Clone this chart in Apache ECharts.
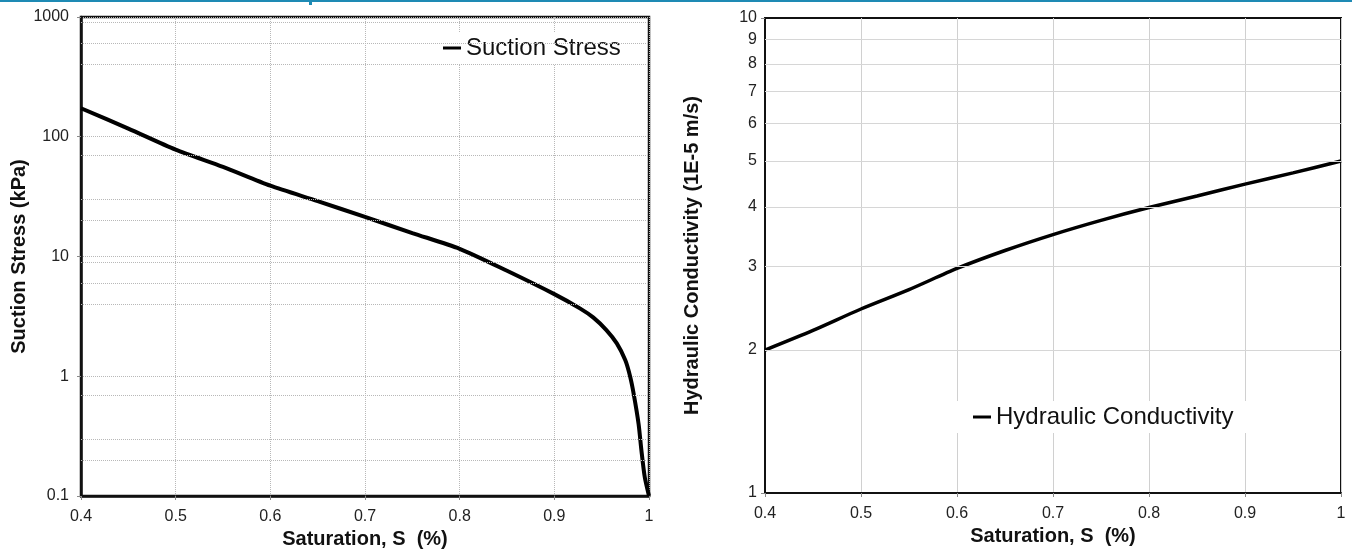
<!DOCTYPE html>
<html>
<head>
<meta charset="utf-8">
<script src="https://cdn.jsdelivr.net/npm/echarts@6/dist/echarts.min.js"></script>
<style>
  html, body { margin: 0; padding: 0; background: #fff; }
  #chart { width: 1352px; height: 549px; }
</style>
</head>
<body>
<div id="chart"></div>
<script>
// left panel: suction stress vs saturation
const satLeft = [0.4, 0.45, 0.5, 0.55, 0.6, 0.65, 0.7, 0.75, 0.8, 0.85, 0.9, 0.927, 0.941, 0.955, 0.966, 0.975, 0.98, 0.984, 0.989, 0.992, 0.9955, 1.0];
const suction = [173, 117, 78, 56, 39, 29, 21.4, 15.7, 11.6, 7.6, 4.85, 3.69, 3.1, 2.43, 1.88, 1.36, 1.0, 0.7, 0.4, 0.24, 0.144, 0.1];
// minor grid lines seen on the left log axis
const suctionMinor = [0.2, 0.3, 0.7, 4, 6, 9, 20, 30, 70, 400, 600, 900];

// right panel: hydraulic conductivity vs saturation
const satRight = [0.4, 0.45, 0.5, 0.55, 0.6, 0.65, 0.7, 0.75, 0.8, 0.85, 0.9, 0.95, 1.0];
const conductivity = [2.0, 2.2, 2.44, 2.68, 2.97, 3.24, 3.5, 3.75, 3.99, 4.22, 4.47, 4.72, 5.0];
// labelled minor ticks on the right log axis
const condTicks = [2, 3, 4, 5, 6, 7, 8, 9];

const FONT = '"Liberation Sans", Arial, sans-serif';

const myEchart = echarts.init(document.getElementById('chart'));

const xAxisCommon = {
  type: 'value',
  min: 0.4,
  max: 1,
  interval: 0.1,
  nameLocation: 'middle',
  nameTextStyle: { fontFamily: FONT, fontSize: 20, fontWeight: 'bold', color: '#111' },
  axisLabel: { fontFamily: FONT, fontSize: 16, color: '#222', margin: 13 },
  axisTick: { show: true, length: 4, lineStyle: { color: '#888' } },
  axisLine: { onZero: false, lineStyle: { color: '#111', width: 2.5 } }
};

const option = {
  animation: false,
  backgroundColor: '#fff',
  textStyle: { fontFamily: FONT },
  graphic: [
    { type: 'rect', left: 0, top: 0, shape: { width: 1352, height: 2 }, style: { fill: '#1e8ab4' } },
    { type: 'rect', left: 309, top: 0, shape: { width: 3, height: 5 }, style: { fill: '#1e8ab4' } }
  ],
  grid: [
    { left: 81, top: 17, width: 568, height: 479, outerBoundsMode: 'none', show: true, borderColor: '#111', borderWidth: 2.5 },
    { left: 765, top: 18, width: 576, height: 475, outerBoundsMode: 'none', show: true, borderColor: '#111', borderWidth: 2 }
  ],
  legend: [
    {
      data: ['Suction Stress'],
      left: 437, top: 32,
      padding: [4, 6],
      backgroundColor: '#fff',
      icon: 'rect', itemWidth: 18, itemHeight: 3,
      textStyle: { fontFamily: FONT, fontSize: 24, color: '#111' }
    },
    {
      data: ['Hydraulic Conductivity'],
      left: 955, top: 401,
      padding: [4, 18],
      backgroundColor: '#fff',
      icon: 'rect', itemWidth: 18, itemHeight: 3,
      textStyle: { fontFamily: FONT, fontSize: 24, color: '#111' }
    }
  ],
  xAxis: [
    Object.assign({}, xAxisCommon, {
      gridIndex: 0,
      name: 'Saturation, S  (%)',
      nameGap: 29,
      splitLine: { show: true, lineStyle: { color: '#b8b8b8', type: 'dotted', width: 1 } }
    }),
    Object.assign({}, xAxisCommon, {
      gridIndex: 1,
      name: 'Saturation, S  (%)',
      nameGap: 32,
      axisLine: { onZero: false, lineStyle: { color: '#111', width: 2 } },
      splitLine: { show: true, lineStyle: { color: '#d0d0d0', width: 1 } }
    })
  ],
  yAxis: [
    {
      gridIndex: 0,
      type: 'log',
      logBase: 10,
      min: 0.1,
      max: 1000,
      name: 'Suction Stress (kPa)',
      nameLocation: 'middle',
      nameRotate: 90,
      nameGap: 52,
      nameTextStyle: { fontFamily: FONT, fontSize: 20, fontWeight: 'bold', color: '#111' },
      axisLabel: { fontFamily: FONT, fontSize: 16, color: '#222', margin: 12, formatter: v => String(v) },
      axisTick: { show: true, length: 4, lineStyle: { color: '#888' } },
      axisLine: { show: true, lineStyle: { color: '#111', width: 2.5 } },
      splitLine: { show: true, lineStyle: { color: '#b8b8b8', type: 'dotted', width: 1 } }
    },
    {
      gridIndex: 1,
      type: 'log',
      logBase: 10,
      min: 1,
      max: 10,
      name: 'Hydraulic Conductivity (1E-5 m/s)',
      nameLocation: 'middle',
      nameRotate: 90,
      nameGap: 63,
      nameTextStyle: { fontFamily: FONT, fontSize: 20, fontWeight: 'bold', color: '#111' },
      axisLabel: { fontFamily: FONT, fontSize: 16, color: '#222', margin: 8, formatter: v => String(v) },
      axisTick: { show: true, length: 4, lineStyle: { color: '#888' } },
      axisLine: { show: true, lineStyle: { color: '#111', width: 2 } },
      splitLine: { show: false }
    }
  ],
  series: [
    {
      name: 'left-minor-grid',
      type: 'line',
      xAxisIndex: 0, yAxisIndex: 0,
      data: [],
      z: 1,
      silent: true,
      markLine: {
        silent: true,
        symbol: ['none', 'none'],
        label: { show: false },
        lineStyle: { color: '#b8b8b8', type: 'dotted', width: 1 },
        data: suctionMinor.map(v => ({ yAxis: v }))
      }
    },
    {
      name: 'right-minor-grid',
      type: 'line',
      xAxisIndex: 1, yAxisIndex: 1,
      data: [],
      z: 1,
      silent: true,
      markLine: {
        silent: true,
        symbol: ['none', 'none'],
        label: {
          show: true,
          position: 'start',
          distance: 8,
          formatter: p => String(p.value),
          fontFamily: FONT,
          fontSize: 16,
          color: '#222'
        },
        lineStyle: { color: '#d6d6d6', type: 'solid', width: 1 },
        data: condTicks.map(v => ({ yAxis: v }))
      }
    },
    {
      name: 'Suction Stress',
      type: 'line',
      xAxisIndex: 0, yAxisIndex: 0,
      data: satLeft.map((s, i) => [s, suction[i]]),
      showSymbol: false,
      smooth: 0.25,
      z: 3,
      color: '#000',
      lineStyle: { color: '#000', width: 4 }
    },
    {
      name: 'Hydraulic Conductivity',
      type: 'line',
      xAxisIndex: 1, yAxisIndex: 1,
      data: satRight.map((s, i) => [s, conductivity[i]]),
      showSymbol: false,
      smooth: 0.25,
      z: 3,
      color: '#000',
      lineStyle: { color: '#000', width: 3.5 }
    }
  ]
};

myEchart.setOption(option);
</script>
</body>
</html>
